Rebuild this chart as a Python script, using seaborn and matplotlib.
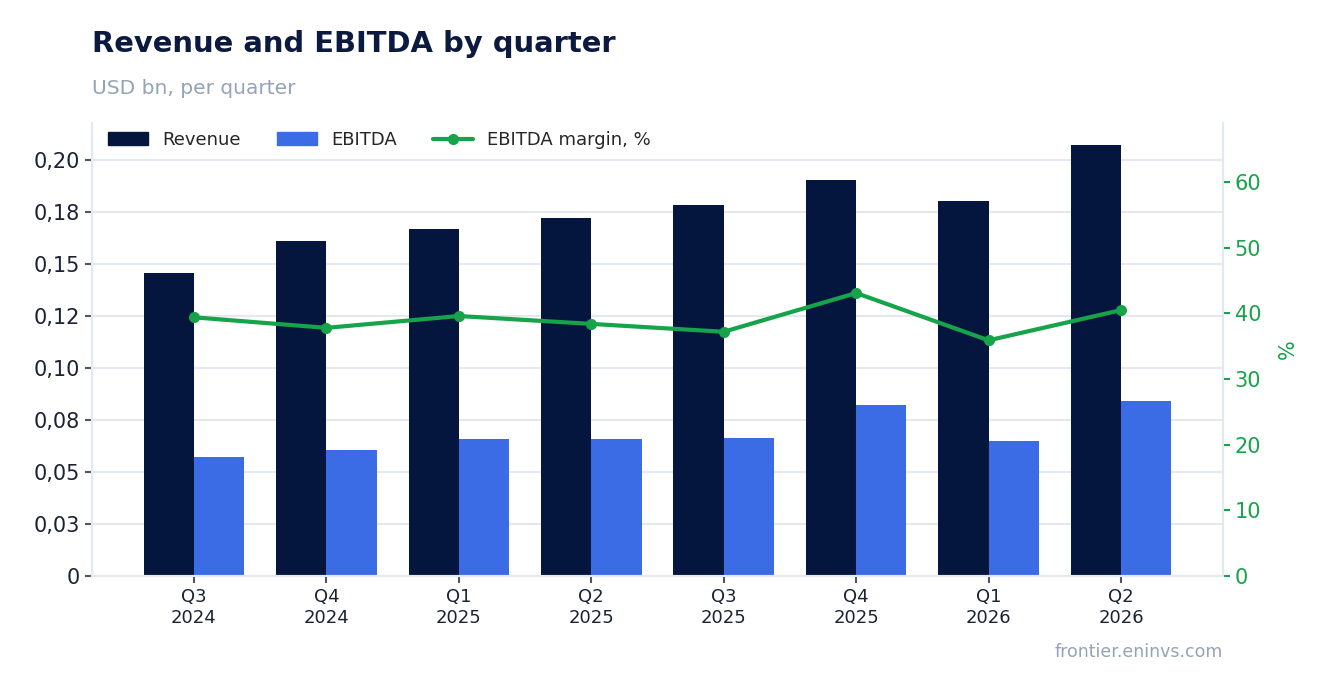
import numpy as np
import pandas as pd
import matplotlib
matplotlib.use('Agg')
import matplotlib.pyplot as plt
import seaborn as sns
from matplotlib.lines import Line2D
from matplotlib.patches import Patch

# ── Data ─────────────────────────────────────────────────────
quarters = ['Q3\n2024', 'Q4\n2024', 'Q1\n2025', 'Q2\n2025',
            'Q3\n2025', 'Q4\n2025', 'Q1\n2026', 'Q2\n2026']
revenue  = [0.1457, 0.1611, 0.1668, 0.1721, 0.1784, 0.1904, 0.1803, 0.2072]
ebitda   = [0.0572, 0.0606, 0.0659, 0.0659, 0.0663, 0.0822, 0.0649, 0.0841]
margin   = [39.4, 37.8, 39.6, 38.4, 37.2, 43.1, 35.9, 40.5]

left_ticks  = [0, 0.025, 0.05, 0.075, 0.10, 0.125, 0.15, 0.175, 0.20]
left_labels = ['0', '0,03', '0,05', '0,08', '0,10', '0,12', '0,15', '0,18', '0,20']
right_ticks = [0, 10, 20, 30, 40, 50, 60]

NAVY  = '#04163e'
BLUE  = '#3b6ce6'
GREEN = '#16a34a'
GRID  = '#e5e8ef'

df = pd.DataFrame({
    'quarter': quarters * 2,
    'value':   revenue + ebitda,
    'series':  ['Revenue'] * len(quarters) + ['EBITDA'] * len(quarters),
})

sns.set_theme(style='white')
plt.rcParams['font.family'] = ['DejaVu Sans']

fig = plt.figure(figsize=(13.23, 6.93), dpi=100)
ax = fig.add_axes([92 / 1323, 1 - 576 / 693, (1223 - 92) / 1323, (576 - 123) / 693])

sns.barplot(data=df, x='quarter', y='value', hue='series',
            palette={'Revenue': NAVY, 'EBITDA': BLUE},
            width=0.76, gap=0, saturation=1, linewidth=0, edgecolor='none',
            ax=ax, legend=False, zorder=2)

ax.set_xlim(-0.77, 7.77)
ax.set_ylim(0, 0.2178)
ax.set_yticks(left_ticks)
ax.set_yticklabels(left_labels)
ax.set_xlabel('')
ax.set_ylabel('')
ax.yaxis.grid(True, color=GRID, linewidth=1.5, zorder=0)
ax.set_axisbelow(True)
for s in ax.spines.values():
    s.set_color(GRID)
    s.set_linewidth(1.5)
ax.spines['top'].set_visible(False)
ax.tick_params(axis='y', labelsize=15, colors='#4b5563', labelcolor='#1a2233',
               length=5, width=1.5, left=True)
ax.tick_params(axis='x', labelsize=13, colors='#4b5563', labelcolor='#1a2233',
               length=5, width=1.5, bottom=True)

# margin line on secondary axis
ax2 = ax.twinx()
sns.lineplot(x=np.arange(len(quarters)), y=margin, ax=ax2, color=GREEN,
             linewidth=3, marker='o', markersize=8, markeredgewidth=0, zorder=3)
ax2.set_ylim(0, 69)
ax2.set_yticks(right_ticks)
ax2.set_ylabel('%', color=GREEN, fontsize=15, labelpad=12)
ax2.tick_params(axis='y', labelsize=15, colors=GREEN, length=5, width=1.5, right=True)
for s in ax2.spines.values():
    s.set_color(GRID)
    s.set_linewidth(1.5)
ax2.spines['top'].set_visible(False)
ax2.grid(False)

handles = [Patch(color=NAVY, label='Revenue'),
           Patch(color=BLUE, label='EBITDA'),
           Line2D([0], [0], color=GREEN, linewidth=3, marker='o', markersize=7,
                  label='EBITDA margin, %')]
ax2.legend(handles=handles, loc='upper left', ncol=3, frameon=False,
           fontsize=13, bbox_to_anchor=(0.0, 1.018), handlelength=2.2,
           columnspacing=2.0, handleheight=0.7)

fig.text(92 / 1323, 1 - 44 / 693, 'Revenue and EBITDA by quarter',
         fontsize=20.9, fontweight='bold', color='#0b1a3e', va='center', ha='left')
fig.text(92 / 1323, 1 - 88 / 693, 'USD bn, per quarter',
         fontsize=14.5, color='#94a3b8', va='center', ha='left')
fig.text(1223 / 1323, 1 - 652 / 693, 'frontier.eninvs.com',
         fontsize=12.5, color='#94a3b8', va='center', ha='right')

fig.savefig('out.png', dpi=100)
